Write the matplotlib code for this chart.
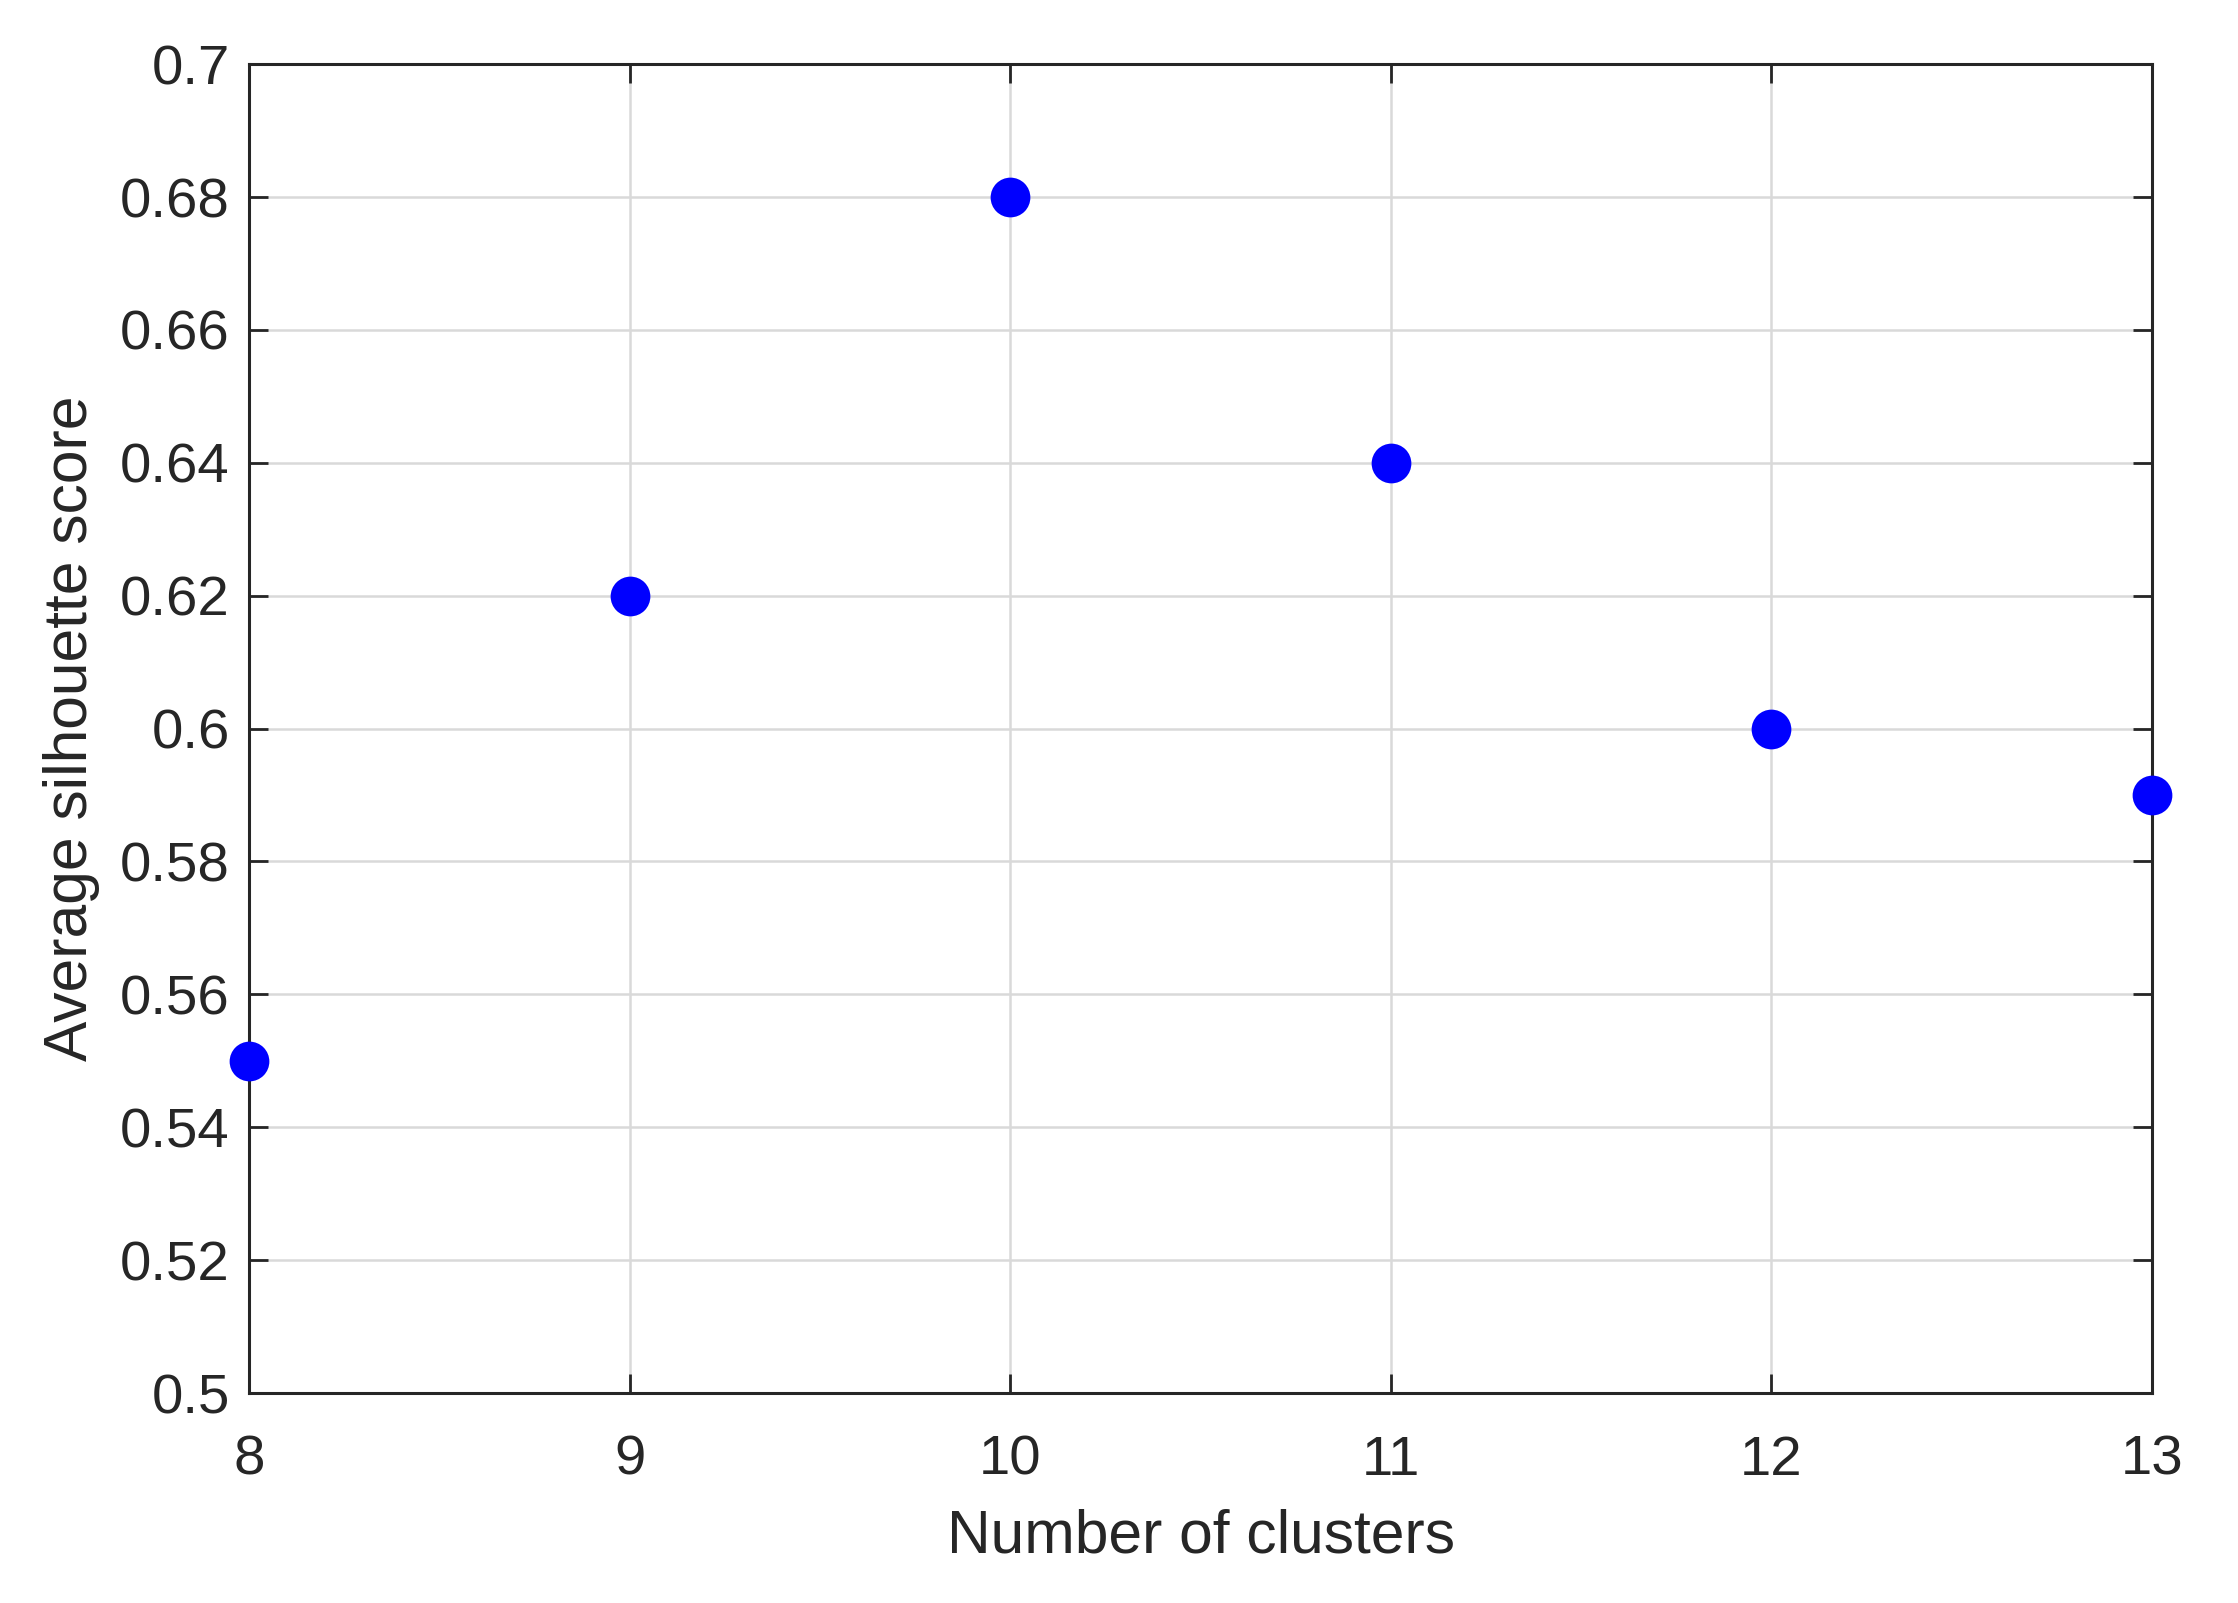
import matplotlib
matplotlib.use("Agg")
import matplotlib.pyplot as plt

# Dati: numero di cluster vs silhouette media
n_clusters = [8, 9, 10, 11, 12, 13]
silhouette = [0.55, 0.62, 0.68, 0.64, 0.60, 0.59]

x_ticks = [8, 9, 10, 11, 12, 13]
y_ticks = [0.5, 0.52, 0.54, 0.56, 0.58, 0.6, 0.62, 0.64, 0.66, 0.68, 0.7]
y_labels = ["0.5", "0.52", "0.54", "0.56", "0.58", "0.6", "0.62", "0.64", "0.66", "0.68", "0.7"]

plt.rcParams["font.family"] = ["Liberation Sans", "DejaVu Sans"]
text_col = "#262626"

fig = plt.figure(figsize=(11.19, 8.015), dpi=200)
ax = fig.add_axes([0.1113, 0.131, 0.8503, 0.829])

ax.plot(n_clusters, silhouette, linestyle="none", marker="o", markersize=13.3,
        color="#0000ff", clip_on=False, zorder=3)

ax.set_xlim(8, 13)
ax.set_ylim(0.5, 0.7)
ax.set_xticks(x_ticks)
ax.set_yticks(y_ticks)
ax.set_yticklabels(y_labels)

ax.grid(True, color="#d9d9d9", linewidth=0.9)
ax.set_axisbelow(True)
for s in ax.spines.values():
    s.set_color(text_col)
    s.set_linewidth(1.1)

ax.tick_params(direction="in", length=7, width=1.0, color=text_col,
               top=True, right=True, labelsize=20.3, labelcolor=text_col)
ax.tick_params(axis="x", pad=15)
ax.tick_params(axis="y", pad=7)

ax.set_xlabel("Number of clusters", fontsize=21.8, color=text_col, labelpad=8)
ax.set_ylabel("Average silhouette score", fontsize=21.8, color=text_col, labelpad=7)

fig.savefig("out.png", dpi=200)
